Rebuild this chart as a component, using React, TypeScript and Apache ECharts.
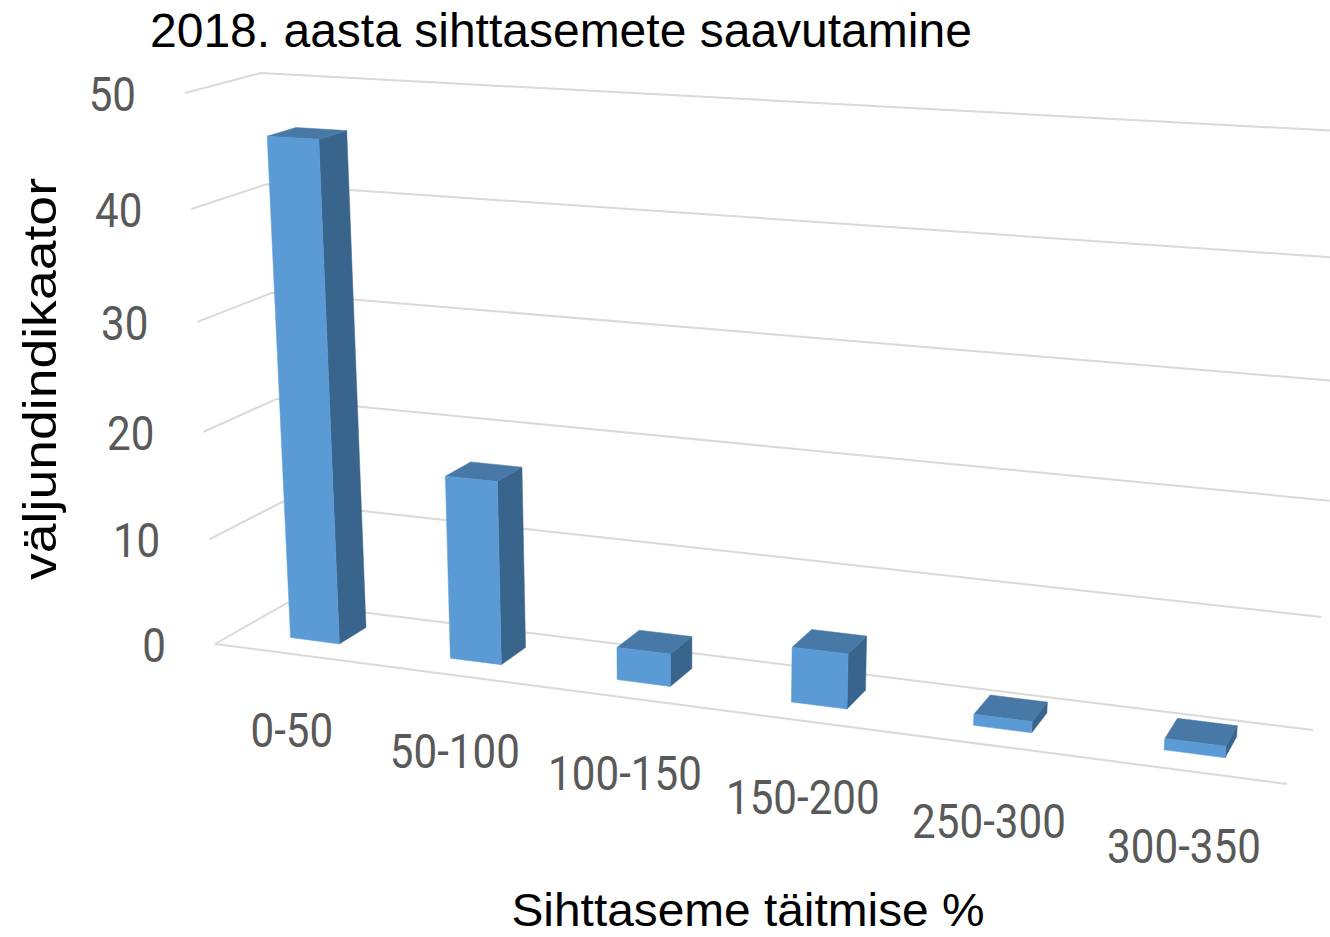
import React, { useEffect, useRef } from "react";
import * as echarts from "echarts";

const categories = ["0-50", "50-100", "100-150", "150-200", "250-300", "300-350"];
const values = [46, 17, 3, 5, 1, 1];
const yTicks = [0, 10, 20, 30, 40, 50];
const titleText = "2018. aasta sihttasemete saavutamine";
const yName = "väljundindikaator";
const xName = "Sihttaseme täitmise %";

type P = [number, number];
// screen corners of the box's two vertical walls: [u=0 v=0], [u=1 v=0], [u=0 v=1], [u=1 v=1]
const FRONT: P[] = [[215, 644], [1287, 784], [185, 93], [1334, 158]];
const BACK: P[] = [[287, 603], [1313, 730], [261, 73], [1357, 132]];

function makeHomography(q: P[]) {
  const [[x0, y0], [x1, y1], [x3, y3], [x2, y2]] = q;
  const dx1 = x1 - x2, dx2 = x3 - x2, sx = x0 - x1 + x2 - x3;
  const dy1 = y1 - y2, dy2 = y3 - y2, sy = y0 - y1 + y2 - y3;
  const den = dx1 * dy2 - dx2 * dy1;
  const g = (sx * dy2 - dx2 * sy) / den;
  const h = (dx1 * sy - sx * dy1) / den;
  const a = x1 - x0 + g * x1, b = x3 - x0 + h * x3;
  const d = y1 - y0 + g * y1, e = y3 - y0 + h * y3;
  return (u: number, v: number): P => {
    const w = g * u + h * v + 1;
    return [(a * u + b * v + x0) / w, (d * u + e * v + y0) / w];
  };
}
const hFront = makeHomography(FRONT);
const hBack = makeHomography(BACK);
function project(u: number, v: number, z: number): P {
  const f = hFront(u, v), b = hBack(u, v);
  return [f[0] + (b[0] - f[0]) * z, f[1] + (b[1] - f[1]) * z];
}

const GRID = { left: 100, top: 100, width: 600, height: 500 };
function toUnit(c: number[], cs: any): P {
  return [(c[0] - cs.x) / cs.width, (cs.y + cs.height - c[1]) / cs.height];
}

const LABEL_FONT = "Roboto";
const LABEL_COLOR = "#595959";
const LINE_COLOR = "#D9D9D9";
const BAR_FRONT = "#5B9BD5";
const BAR_SIDE = "#39658C";
const BAR_TOP = "#4878A6";
const BAR_RATIO = 0.31;
const BAR_SHIFT = 0.0012;
const Z0 = 0.32;
const Z1 = 0.71;

function label(text: string, x: number, y: number, align: string) {
  return {
    type: "text",
    x,
    y,
    scaleX: 0.86,
    style: {
      text,
      fontFamily: LABEL_FONT,
      fontSize: 49,
      fill: LABEL_COLOR,
      textAlign: align,
      textVerticalAlign: "middle",
    },
  };
}

function renderGridline(params: any, api: any) {
  const cs = params.coordSys;
  const [, v] = toUnit(api.coord([0, api.value(1)]), cs);
  const isFloor = api.value(1) === 0;
  const a = project(0, v, 0);
  const children: any[] = [
    {
      type: "polyline",
      shape: { points: [a, project(0, v, 1), project(1, v, 1)] },
      style: { stroke: LINE_COLOR, lineWidth: 2, fill: "none" },
    },
  ];
  if (isFloor) {
    children.push({
      type: "line",
      shape: { x1: a[0], y1: a[1], x2: project(1, 0, 0)[0], y2: project(1, 0, 0)[1] },
      style: { stroke: LINE_COLOR, lineWidth: 2 },
    });
  }
  children.push(label(String(api.value(1)), a[0] - 49, a[1] + 1, "right"));
  return { type: "group", children };
}

function renderBar(params: any, api: any) {
  const cs = params.coordSys;
  const i = api.value(0);
  const [uc, v] = toUnit(api.coord([i, api.value(1)]), cs);
  const halfU = (api.size([1, 0])[0] / cs.width) * BAR_RATIO * 0.5;
  const u0 = uc - halfU - BAR_SHIFT, u1 = uc + halfU - BAR_SHIFT;
  const face = (points: P[], fill: string) => ({
    type: "polygon",
    shape: { points },
    style: { fill, stroke: fill, lineWidth: 0.5 },
  });
  return {
    type: "group",
    children: [
      face([project(u1, 0, Z0), project(u1, 0, Z1), project(u1, v, Z1), project(u1, v, Z0)], BAR_SIDE),
      face([project(u0, v, Z0), project(u1, v, Z0), project(u1, v, Z1), project(u0, v, Z1)], BAR_TOP),
      face([project(u0, 0, Z0), project(u1, 0, Z0), project(u1, v, Z0), project(u0, v, Z0)], BAR_FRONT),
    ],
  };
}

function renderCategoryLabel(params: any, api: any) {
  const cs = params.coordSys;
  const i = api.value(0);
  const [uc] = toUnit(api.coord([i, 0]), cs);
  const p = project(uc, 0, 0);
  return label(categories[i], p[0] - 2, p[1] + 76, "center");
}

export default function App() {
  const ref = useRef<HTMLDivElement>(null);
  useEffect(() => {
    document.body.style.margin = "0";
    const chart = echarts.init(ref.current!, undefined, { renderer: "svg" });
    chart.setOption({
      animation: false,
      backgroundColor: "#fff",
      title: {
        text: titleText,
        left: 150,
        top: 6,
        padding: 0,
        textStyle: { fontFamily: "Liberation Sans", fontSize: 48, fontWeight: "normal", color: "#000" },
      },
      grid: { ...GRID },
      xAxis: { type: "category", data: categories, show: false },
      yAxis: { type: "value", min: 0, max: 50, interval: 10, show: false },
      graphic: [
        {
          type: "text",
          x: 40,
          y: 379,
          rotation: Math.PI / 2,
          scaleX: 1.14,
          style: {
            text: yName,
            fontFamily: "Liberation Sans",
            fontSize: 47,
            fill: "#000",
            textAlign: "center",
            textVerticalAlign: "middle",
          },
        },
        {
          type: "text",
          x: 748,
          y: 910,
          scaleX: 1.04,
          style: {
            text: xName,
            fontFamily: "Liberation Sans",
            fontSize: 46,
            fill: "#000",
            textAlign: "center",
            textVerticalAlign: "middle",
          },
        },
      ],
      series: [
        { type: "custom", renderItem: renderGridline, data: yTicks.map((t) => [0, t]), silent: true, clip: false },
        { type: "custom", renderItem: renderBar, data: values.map((v, i) => [i, v]), silent: true, clip: false },
        { type: "custom", renderItem: renderCategoryLabel, data: categories.map((_, i) => [i, 0]), silent: true, clip: false },
      ],
    });
    return () => chart.dispose();
  }, []);
  return <div ref={ref} style={{ width: 1330, height: 937 }} />;
}
